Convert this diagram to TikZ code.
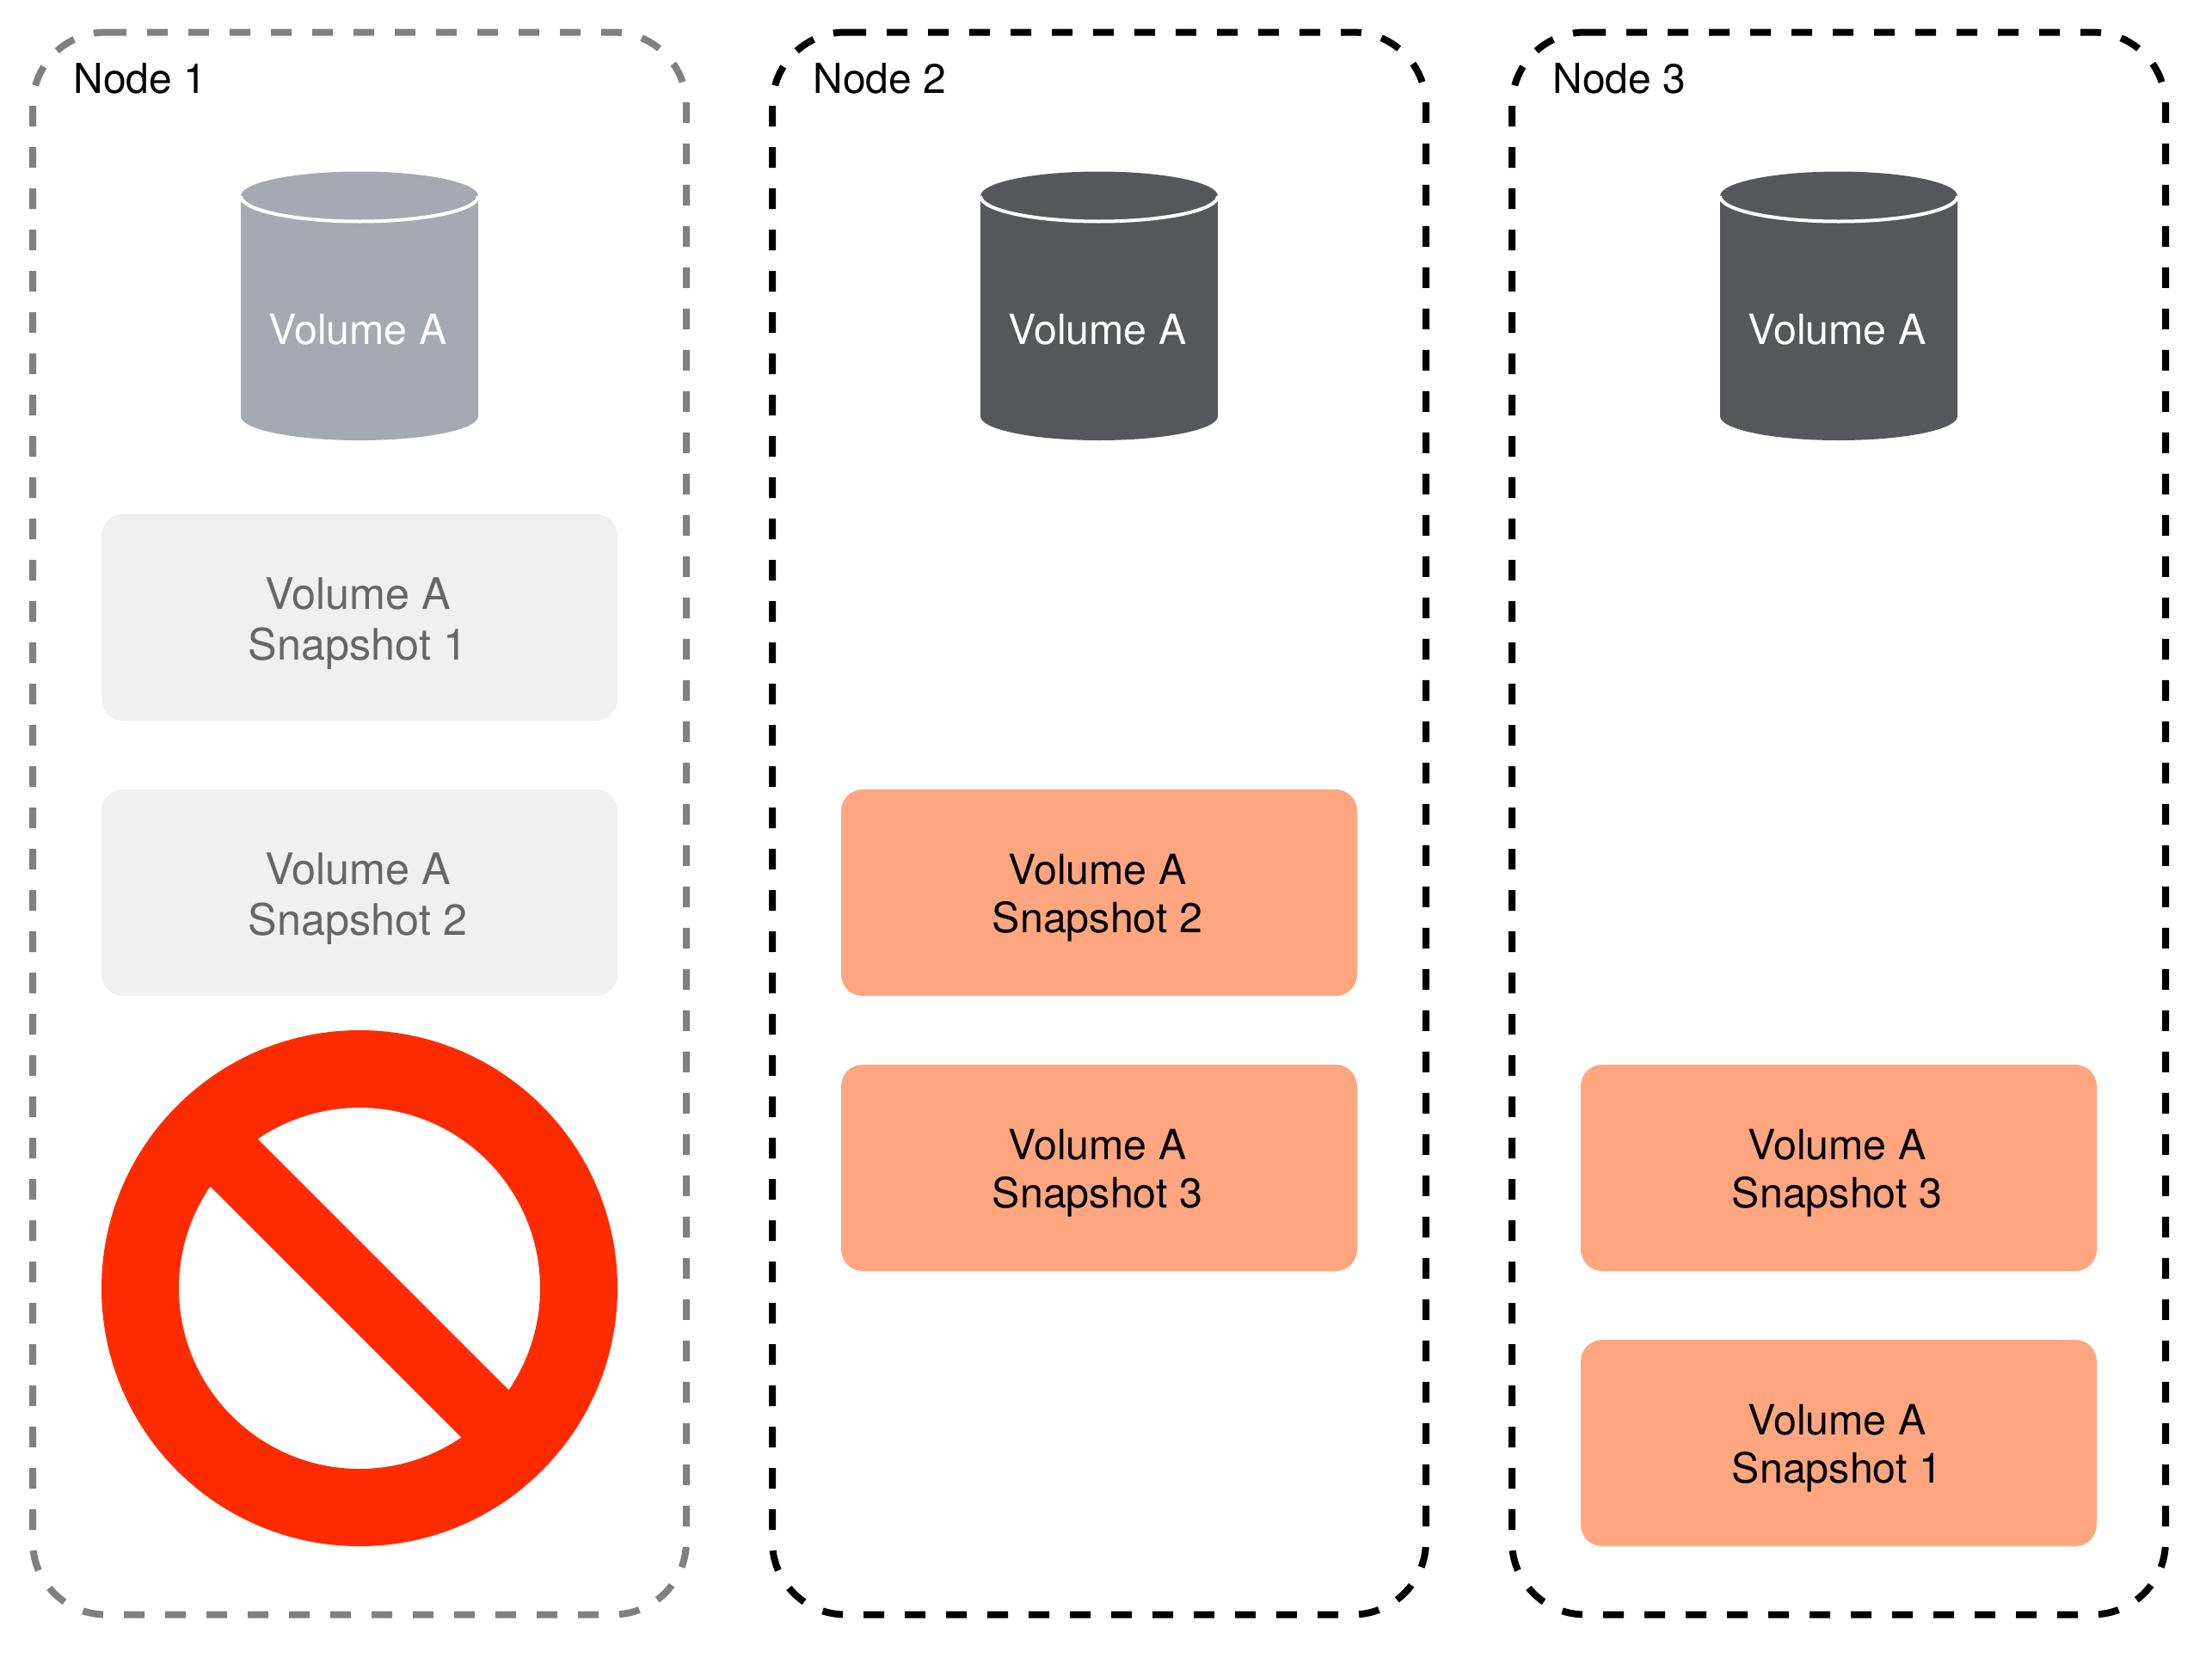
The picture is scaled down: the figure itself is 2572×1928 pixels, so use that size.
\documentclass[tikz,border=0pt]{standalone}
\usepackage{fontspec}
\setmainfont{TeX Gyre Heros}
\definecolor{framegray}{HTML}{808080}
\definecolor{cylgray}{HTML}{A6A9AF}
\definecolor{cyldark}{HTML}{55575B}
\definecolor{boxgray}{HTML}{F0F0F0}
\definecolor{textgray}{HTML}{666666}
\definecolor{boxorange}{HTML}{FFA680}
\definecolor{stopred}{HTML}{FF2B00}
\tikzset{
  x=0.5pt,y=-0.5pt,
  frameline/.style={line width=4pt,dash pattern=on 12pt off 12pt,line cap=butt},
  frametitle/.style={anchor=base west,inner sep=0pt,font=\fontsize{24}{27}\selectfont},
  snapbox/.style={draw=none,rounded corners=12.5pt,minimum width=300pt,minimum height=120pt,inner sep=0pt},
  snaptext/.style={inner sep=0pt,align=center,font=\fontsize{24.2}{28}\selectfont},
  grayspace/.style={font=\fontsize{25.2}{29.5}\selectfont},
  cyltext/.style={inner sep=0pt,anchor=base,text=white,font=\fontsize{24.2}{27}\selectfont}
}
\newcommand{\frameat}[2]{%
  \draw[frameline,#2] (#1+85,37.5) -- (#1+675,37.5) arc[start angle=90,end angle=0,x radius=42.5pt,y radius=42.5pt]
   -- (#1+760,1792.5) arc[start angle=0,end angle=-90,x radius=42.5pt,y radius=42.5pt]
   -- (#1+85,1877.5) arc[start angle=-90,end angle=-180,x radius=42.5pt,y radius=42.5pt]
   -- (#1,122.5) arc[start angle=180,end angle=90,x radius=42.5pt,y radius=42.5pt] -- cycle;}
\newcommand{\cylat}[2]{%
  \fill[#2] (#1-138,228) arc[start angle=180,end angle=0,x radius=69pt,y radius=14.25pt]
    -- (#1+138,484) arc[start angle=0,end angle=-180,x radius=69pt,y radius=14pt] -- cycle;
  \draw[white,line width=2pt] (#1-138,228) arc[start angle=180,end angle=360,x radius=69pt,y radius=14.75pt];}
\begin{document}
\begin{tikzpicture}
\useasboundingbox (0,0) rectangle (2572,1928);
\fill[white] (0,0) rectangle (2572,1928);
\frameat{38}{draw=framegray}
\frameat{898}{draw=black}
\frameat{1758}{draw=black}
\node[frametitle] (n1) at (85,108) {Node 1};
\node[frametitle] (n2) at (945,108) {Node 2};
\node[frametitle] (n3) at (1805,108) {Node 3};
\cylat{418}{cylgray}
\cylat{1278}{cyldark}
\cylat{2138}{cyldark}
\node[cyltext] (c1) at (416,400) {Volume A};
\node[cyltext] (c2) at (1276,400) {Volume A};
\node[cyltext] (c3) at (2136,400) {Volume A};
% Node 1 snapshots
\node[snapbox,fill=boxgray] (a1) at (418,718) {};
\node[snapbox,fill=boxgray] (a2) at (418,1038) {};
\node[snaptext,grayspace,text=textgray] (ta1) at (416,725.5) {Volume A\\Snapshot 1};
\node[snaptext,grayspace,text=textgray] (ta2) at (416,1045.5) {Volume A\\Snapshot 2};
% Node 2 snapshots
\node[snapbox,fill=boxorange] (b1) at (1278,1038) {};
\node[snapbox,fill=boxorange] (b2) at (1278,1358) {};
\node[snaptext] (tb1) at (1276,1044) {Volume A\\Snapshot 2};
\node[snaptext] (tb2) at (1276,1364) {Volume A\\Snapshot 3};
% Node 3 snapshots
\node[snapbox,fill=boxorange] (d1) at (2138,1358) {};
\node[snapbox,fill=boxorange] (d2) at (2138,1678) {};
\node[snaptext] (td1) at (2136,1364) {Volume A\\Snapshot 3};
\node[snaptext] (td2) at (2136,1684) {Volume A\\Snapshot 1};
% Prohibition sign
\draw[stopred,line width=45pt] (418,1498) circle[radius=127.5pt];
\begin{scope}
  \clip (418,1498) circle[radius=110pt];
  \draw[stopred,line width=39pt] (218,1298) -- (618,1698);
\end{scope}
\end{tikzpicture}
\end{document}
